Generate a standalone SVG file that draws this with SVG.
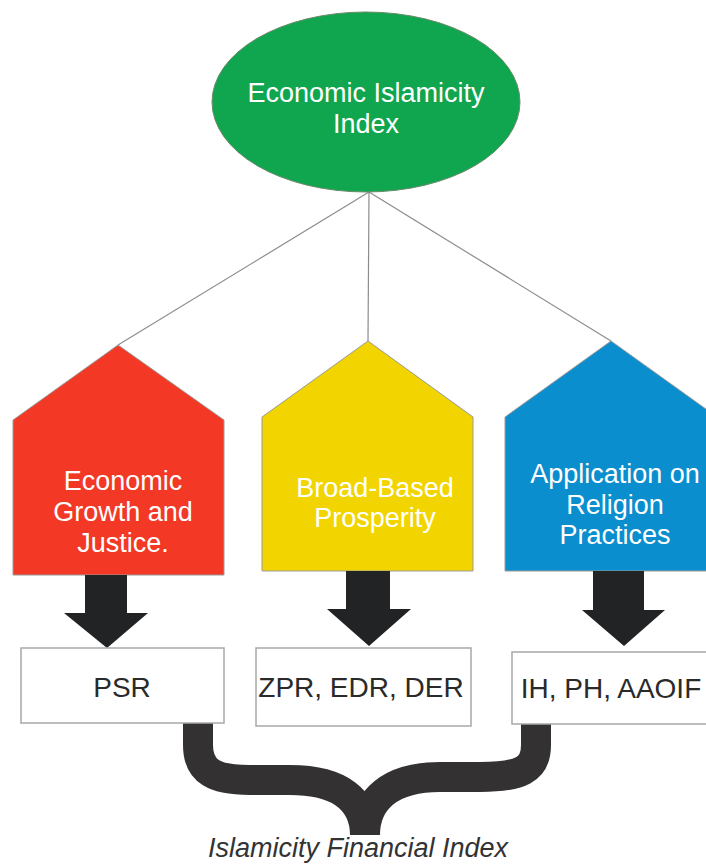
<svg xmlns="http://www.w3.org/2000/svg" width="706" height="868" viewBox="0 0 706 868">
<style>
.lbl{font-family:"Liberation Sans",Arial,sans-serif;font-size:27px;fill:#ffffff;text-anchor:middle}
.box{fill:#ffffff;stroke:#a8a8a8;stroke-width:1.5}
.btxt{font-family:"Liberation Sans",Arial,sans-serif;font-size:28px;fill:#2a2a2a;text-anchor:middle}
.house{stroke:#9a9a9a;stroke-width:1}
.arrow{fill:#212325}
.conn{stroke:#8c8c8c;stroke-width:1.2;fill:none}
</style>
<rect width="706" height="868" fill="#ffffff"/>
<g id="connectors">
<line class="conn" x1="369" y1="192" x2="118" y2="345"/>
<line class="conn" x1="369" y1="192" x2="368" y2="341"/>
<line class="conn" x1="369" y1="192" x2="611" y2="341"/>
</g>
<g id="root">
<ellipse cx="366" cy="102" rx="154" ry="90" fill="#10a64f" stroke="#6a8a6a" stroke-width="1"/>
<text class="lbl" x="366" y="102">Economic Islamicity</text>
<text class="lbl" x="366" y="133">Index</text>
</g>
<g id="growth">
<polygon class="house" points="118,345 224,420 224,575 13,575 13,420" fill="#f33826"/>
<text class="lbl" x="123" y="490">Economic</text>
<text class="lbl" x="123" y="521">Growth and</text>
<text class="lbl" x="123" y="552">Justice.</text>
</g>
<g id="prosperity">
<polygon class="house" points="368,341 473,417 473,571 262,571 262,417" fill="#f2d500"/>
<text class="lbl" x="375" y="497">Broad-Based</text>
<text class="lbl" x="375" y="527">Prosperity</text>
</g>
<g id="religion">
<polygon class="house" points="611,341 717,417 717,571 505,571 505,417" fill="#0b8ecd"/>
<text class="lbl" x="615" y="483">Application on</text>
<text class="lbl" x="615" y="514">Religion</text>
<text class="lbl" x="615" y="544">Practices</text>
</g>
<g id="arrows">
<polygon class="arrow" points="85,575 127,575 127,613 148,613 107,648 64,613 85,613"/>
<polygon class="arrow" points="346,571 390,571 390,609 411,609 369,646 327,609 346,609"/>
<polygon class="arrow" points="593,571 644,571 644,610 665,610 624,646 582,610 593,610"/>
</g>
<g id="brace">
<path d="M198,722 L198,745 C198,772 215,780 250,780 L290,780 C340,780 365,800 365,835" fill="none" stroke="#333132" stroke-width="30"/>
<path d="M536,722 L536,745 C536,770 520,777 480,777 L440,777 C390,777 365,800 365,835" fill="none" stroke="#333132" stroke-width="30"/>
</g>
<g id="psr">
<rect class="box" x="21" y="648" width="203" height="75"/>
<text class="btxt" x="122" y="697">PSR</text>
</g>
<g id="zpr">
<rect class="box" x="256" y="648" width="215" height="78"/>
<text class="btxt" x="361" y="697">ZPR, EDR, DER</text>
</g>
<g id="ih">
<rect class="box" x="512" y="652" width="212" height="72"/>
<text class="btxt" x="611" y="698">IH, PH, AAOIF</text>
</g>
<g id="caption">
<text x="358" y="857" style="font-family:'Liberation Sans',Arial,sans-serif;font-size:27px;font-style:italic;fill:#333333;text-anchor:middle">Islamicity Financial Index</text>
</g>
</svg>
